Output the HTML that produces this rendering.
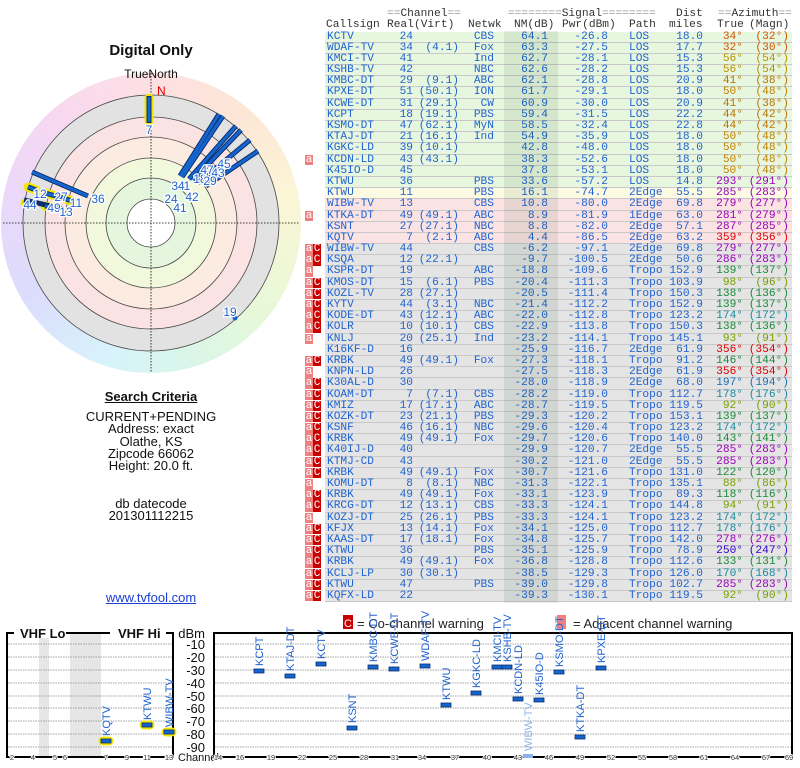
<!DOCTYPE html>
<html><head><meta charset="utf-8"><style>
body{margin:0;width:800px;height:768px;background:#fff;position:relative;overflow:hidden;font-family:"Liberation Sans",sans-serif}
#conic{position:absolute;left:1px;top:73px;width:300px;height:300px;border-radius:50%;background:conic-gradient(from 0deg,#fde0e3,#fde6d6 40deg,#fbf6d6 80deg,#e6f8d8 130deg,#d8f6ec 170deg,#d8f2fc 200deg,#dcdcfc 240deg,#ecd8fa 285deg,#f8d8f0 320deg,#fde0e3)}
svg{position:absolute;left:0;top:0}
.lt{position:absolute;left:0;width:302px;text-align:center;color:#111;font-size:13px}
#tbl{position:absolute;left:325px;top:31.5px;width:467px;font-family:"Liberation Mono",monospace;font-size:11.2px;color:#1f63d0}
.r{position:relative;height:11.2px;line-height:11.2px;box-sizing:border-box;border-bottom:1px solid #c9c9c9}
.r span{position:absolute;top:0;white-space:pre}
.g{background:#e7f7df}.y{background:#fdfae4}.p{background:#fce3e3}.q{background:#e4e4e4}
.r span:nth-of-type(1){left:2px}
.r span:nth-of-type(2){right:379px}
.r span:nth-of-type(3){right:333px}
.r span:nth-of-type(4){right:298px}
.r span:nth-of-type(5){right:244px}
.r span:nth-of-type(6){right:184px}
.r span:nth-of-type(7){left:304px}
.r span:nth-of-type(8){right:89px}
.r span:nth-of-type(9){right:49px}
.r span:nth-of-type(10){right:3px}
.r i{position:absolute;top:0;height:10.5px;width:8px;color:#fff;font-style:normal;text-align:center;font-size:11px}
.r i.a{left:-20px;background:#f08080}
.r i.c{left:-12px;background:#c80000}
#nm{position:absolute;left:504px;top:31px;width:54px;height:572px;background:rgba(0,50,0,.08)}
.h{position:absolute;font-family:"Liberation Mono",monospace;font-size:11.2px;color:#333;white-space:pre}
.h b{font-weight:normal;color:#999}
.o1{color:#cc5500}.o2{color:#bb7200}.o3{color:#c08000}.o4{color:#b89000}
.pu{color:#9a00b8}.rd{color:#dd0000}.in{color:#3300cc}.bl{color:#1a70b8}.te{color:#1a8aa0}.gr{color:#1a8a3a}.ol{color:#78a000}
</style></head><body>
<div id="conic"></div>
<svg width="800" height="768" viewBox="0 0 800 768" font-family="Liberation Sans, sans-serif">
<g stroke="#444" stroke-width="0.8">
<circle cx="151" cy="223" r="128" fill="#e2e2e2"/>
<circle cx="151" cy="223" r="106" fill="#fce3e3"/>
<circle cx="151" cy="223" r="86" fill="#fcebe0"/>
<circle cx="151" cy="223" r="65" fill="#f2f8dc"/>
<circle cx="151" cy="223" r="45" fill="#e5f6df"/>
<circle cx="151" cy="223" r="24" fill="#fff"/>
</g>
<g stroke="#000" stroke-width="0.8" stroke-dasharray="1.5,1.5">
<line x1="3" y1="223" x2="299" y2="223"/><line x1="151" y1="73" x2="151" y2="372"/>
</g>
<text x="151" y="78" font-size="12" text-anchor="middle" fill="#111">TrueNorth</text>
<text x="157" y="95" font-size="12" fill="#d00">N</text>
<text x="151" y="55" font-size="15" font-weight="bold" text-anchor="middle" fill="#111">Digital Only</text>
<!-- yellow bars -->
<g stroke="#f2e600" stroke-width="9" stroke-linecap="round">
<line x1="149" y1="98" x2="149" y2="121"/>
<line x1="28" y1="187" x2="36" y2="190"/>
<line x1="45" y1="193" x2="63" y2="198"/>
<line x1="66" y1="199" x2="72" y2="201"/>
<line x1="25" y1="203" x2="33" y2="204"/>
<line x1="45" y1="206" x2="58" y2="208"/>
</g>
<g stroke="#0b2e6b" stroke-width="5" stroke-linecap="butt">
<line x1="149" y1="96" x2="149" y2="123"/>
<line x1="180" y1="176" x2="219" y2="114"/><line x1="182" y1="177" x2="223" y2="116"/>
<line x1="189" y1="179" x2="236" y2="126"/><line x1="193" y1="180" x2="241" y2="130"/>
<line x1="198" y1="183" x2="250" y2="140"/><line x1="206" y1="186" x2="258" y2="151"/>
<line x1="88" y1="196" x2="32" y2="172"/>
<line x1="28" y1="187" x2="36" y2="190"/><line x1="45" y1="193" x2="63" y2="198"/>
<line x1="66" y1="199" x2="72" y2="201"/><line x1="25" y1="203" x2="33" y2="204"/>
<line x1="45" y1="206" x2="58" y2="208"/><line x1="24" y1="200" x2="64" y2="209"/>
</g>
<g stroke="#1565d0" stroke-width="3">
<line x1="149" y1="97" x2="149" y2="122"/>
<line x1="180" y1="176" x2="219" y2="114"/><line x1="182" y1="177" x2="223" y2="116"/>
<line x1="189" y1="179" x2="236" y2="126"/><line x1="193" y1="180" x2="241" y2="130"/>
<line x1="198" y1="183" x2="250" y2="140"/><line x1="206" y1="186" x2="258" y2="151"/>
<line x1="88" y1="196" x2="32" y2="172"/>
<line x1="28" y1="187" x2="36" y2="190"/><line x1="45" y1="193" x2="63" y2="198"/>
<line x1="66" y1="199" x2="72" y2="201"/><line x1="25" y1="203" x2="33" y2="204"/>
<line x1="45" y1="206" x2="58" y2="208"/>
</g>
<circle cx="235" cy="318" r="2.5" fill="#1565d0"/>
<g font-size="12" fill="#1f63d0" stroke="#fff" stroke-width="2.5" paint-order="stroke" text-anchor="middle">
<text x="149" y="134">7</text><text x="98" y="203">36</text>
<text x="40" y="198">12</text><text x="61" y="201">27</text><text x="76" y="207">11</text>
<text x="30" y="209">44</text><text x="54" y="212">49</text><text x="66" y="216">13</text>
<text x="230" y="316">19</text>
<text x="178" y="190">34</text><text x="187" y="190">1</text><text x="200" y="183">18</text>
<text x="207" y="174">47</text><text x="224" y="168">45</text><text x="218" y="177">43</text>
<text x="210" y="185">29</text><text x="171" y="203">24</text><text x="192" y="201">42</text>
<text x="180" y="212">41</text>
</g>
<!-- legend -->
<rect x="343" y="615" width="10" height="14" fill="#c80000"/><text x="348" y="627" font-size="11" fill="#fff" text-anchor="middle">C</text>
<text x="357" y="628" font-size="13" fill="#222">= Co-channel warning</text>
<rect x="557" y="615" width="9" height="14" fill="#f08080"/>
<text x="573" y="628" font-size="13" fill="#222">= Adjacent channel warning</text>
<!-- bottom charts -->
<rect x="39" y="634" width="10" height="123" fill="#e6e6e6"/>
<rect x="70" y="634" width="31" height="123" fill="#e6e6e6"/>
<g stroke="#888" stroke-width="0.8" stroke-dasharray="1.5,1">
<line x1="8" y1="644" x2="172" y2="644"/><line x1="215" y1="644" x2="791" y2="644"/>
<line x1="8" y1="657" x2="172" y2="657"/><line x1="215" y1="657" x2="791" y2="657"/>
<line x1="8" y1="670" x2="172" y2="670"/><line x1="215" y1="670" x2="791" y2="670"/>
<line x1="8" y1="683" x2="172" y2="683"/><line x1="215" y1="683" x2="791" y2="683"/>
<line x1="8" y1="696" x2="172" y2="696"/><line x1="215" y1="696" x2="791" y2="696"/>
<line x1="8" y1="708" x2="172" y2="708"/><line x1="215" y1="708" x2="791" y2="708"/>
<line x1="8" y1="721" x2="172" y2="721"/><line x1="215" y1="721" x2="791" y2="721"/>
<line x1="8" y1="734" x2="172" y2="734"/><line x1="215" y1="734" x2="791" y2="734"/>
<line x1="8" y1="747" x2="172" y2="747"/><line x1="215" y1="747" x2="791" y2="747"/>
</g>
<rect x="7" y="633" width="166" height="124" fill="none" stroke="#000" stroke-width="2"/>
<rect x="214" y="633" width="578" height="124" fill="none" stroke="#000" stroke-width="2"/>
<rect x="14" y="626" width="52" height="12" fill="#fff"/><rect x="110" y="626" width="56" height="12" fill="#fff"/>
<text x="20" y="638" font-size="13" font-weight="bold" fill="#111">VHF Lo</text>
<text x="118" y="638" font-size="13" font-weight="bold" fill="#111">VHF Hi</text>
<g font-size="13" fill="#111" text-anchor="end">
<text x="205" y="638">dBm</text><text x="205" y="649">-10</text><text x="205" y="662">-20</text><text x="205" y="675">-30</text>
<text x="205" y="688">-40</text><text x="205" y="701">-50</text><text x="205" y="713">-60</text><text x="205" y="726">-70</text>
<text x="205" y="739">-80</text><text x="205" y="752">-90</text>
</g>
<text x="178" y="761" font-size="11" fill="#111">Channel</text>
<g font-size="7.5" fill="#333" text-anchor="middle" stroke="#fff" stroke-width="2" paint-order="stroke">
<text x="12" y="760">2</text><text x="33" y="760">4</text><text x="55" y="760">5</text><text x="65" y="760">6</text>
<text x="106" y="760">7</text><text x="127" y="760">9</text><text x="147" y="760">11</text><text x="169" y="760">13</text>
<text x="218" y="760">14</text><text x="240" y="760">16</text><text x="271" y="760">19</text><text x="302" y="760">22</text>
<text x="333" y="760">25</text><text x="364" y="760">28</text><text x="395" y="760">31</text><text x="422" y="760">34</text>
<text x="455" y="760">37</text><text x="487" y="760">40</text><text x="518" y="760">43</text><text x="549" y="760">46</text>
<text x="580" y="760">49</text><text x="611" y="760">52</text><text x="642" y="760">55</text><text x="673" y="760">58</text>
<text x="704" y="760">61</text><text x="735" y="760">64</text><text x="766" y="760">67</text><text x="789" y="760">69</text>
</g>
<g stroke="#f2e600" stroke-width="3" fill="none">
<rect x="100" y="738" width="12" height="6" rx="3"/><rect x="141" y="722" width="12" height="6" rx="3"/><rect x="163" y="729" width="12" height="6" rx="3"/>
</g>
<g fill="#1565d0" stroke="#0b2e6b" stroke-width="0.8">
<rect x="101" y="739" width="10" height="4"/><rect x="142" y="723" width="10" height="4"/><rect x="164" y="730" width="10" height="4"/>
<rect x="254" y="669" width="10" height="4"/><rect x="285" y="674" width="10" height="4"/><rect x="316" y="662" width="10" height="4"/>
<rect x="347" y="726" width="10" height="4"/><rect x="368" y="665" width="10" height="4"/><rect x="389" y="667" width="10" height="4"/>
<rect x="420" y="664" width="10" height="4"/><rect x="441" y="703" width="10" height="4"/><rect x="471" y="691" width="10" height="4"/>
<rect x="492" y="665" width="10" height="4"/><rect x="502" y="665" width="10" height="4"/><rect x="513" y="697" width="10" height="4"/>
<rect x="534" y="698" width="10" height="4"/><rect x="554" y="670" width="10" height="4"/><rect x="575" y="735" width="10" height="4"/>
<rect x="596" y="666" width="10" height="4"/>
</g>
<rect x="523" y="754" width="10" height="4" fill="#8ab4e8"/>
<g font-size="11" fill="#1f63d0">
<text transform="translate(110,736) rotate(-90)">KQTV</text>
<text transform="translate(151,720) rotate(-90)">KTWU</text>
<text transform="translate(173,727) rotate(-90)">WIBW-TV</text>
<text transform="translate(263,666) rotate(-90)">KCPT</text>
<text transform="translate(294,671) rotate(-90)">KTAJ-DT</text>
<text transform="translate(325,659) rotate(-90)">KCTV</text>
<text transform="translate(356,723) rotate(-90)">KSNT</text>
<text transform="translate(377,662) rotate(-90)">KMBC-DT</text>
<text transform="translate(398,664) rotate(-90)">KCWE-DT</text>
<text transform="translate(429,661) rotate(-90)">WDAF-TV</text>
<text transform="translate(450,700) rotate(-90)">KTWU</text>
<text transform="translate(480,688) rotate(-90)">KGKC-LD</text>
<text transform="translate(501,662) rotate(-90)">KMCI-TV</text>
<text transform="translate(511,662) rotate(-90)">KSHB-TV</text>
<text transform="translate(522,694) rotate(-90)">KCDN-LD</text>
<text transform="translate(532,751) rotate(-90)" fill="#8ab4e8">WIBW-TV</text>
<text transform="translate(543,695) rotate(-90)">K45IO-D</text>
<text transform="translate(563,667) rotate(-90)">KSMO-DT</text>
<text transform="translate(584,732) rotate(-90)">KTKA-DT</text>
<text transform="translate(605,663) rotate(-90)">KPXE-DT</text>
</g>
</svg>

<div class="lt" style="top:389px;font-weight:bold;font-size:13px;text-decoration:underline">Search Criteria</div>
<div class="lt" style="top:411px;line-height:12.3px">CURRENT+PENDING<br>Address: exact<br>Olathe, KS<br>Zipcode 66062<br>Height: 20.0 ft.</div>
<div class="lt" style="top:498px;line-height:12.3px">db datecode<br>201301112215</div>
<div class="lt" style="top:590px;color:#1a3fd0;text-decoration:underline">www.tvfool.com</div>

<div class="h" style="left:387px;top:8px"><b>==</b>Channel<b>==</b></div>
<div class="h" style="left:508px;top:8px"><b>========</b>Signal<b>========</b></div>
<div class="h" style="left:676px;top:8px">Dist</div>
<div class="h" style="left:718px;top:8px"><b>==</b>Azimuth<b>==</b></div>
<div class="h" style="left:326px;top:19px">Callsign</div>
<div class="h" style="left:387px;top:19px">Real</div>
<div class="h" style="left:414px;top:19px">(Virt)</div>
<div class="h" style="left:468px;top:19px">Netwk</div>
<div class="h" style="left:514px;top:19px">NM(dB)</div>
<div class="h" style="left:562px;top:19px">Pwr(dBm)</div>
<div class="h" style="left:629px;top:19px">Path</div>
<div class="h" style="left:669px;top:19px">miles</div>
<div class="h" style="left:717px;top:19px">True</div>
<div class="h" style="left:749px;top:19px">(Magn)</div>

<div id="tbl">
<div class="r g"><span>KCTV</span><span>24</span><span></span><span>CBS</span><span>64.1</span><span>-26.8</span><span>LOS</span><span>18.0</span><span class="o1">34°</span><span class="o1">(32°)</span></div>
<div class="r g"><span>WDAF-TV</span><span>34</span><span>(4.1)</span><span>Fox</span><span>63.3</span><span>-27.5</span><span>LOS</span><span>17.7</span><span class="o1">32°</span><span class="o1">(30°)</span></div>
<div class="r g"><span>KMCI-TV</span><span>41</span><span></span><span>Ind</span><span>62.7</span><span>-28.1</span><span>LOS</span><span>15.3</span><span class="o4">56°</span><span class="o4">(54°)</span></div>
<div class="r g"><span>KSHB-TV</span><span>42</span><span></span><span>NBC</span><span>62.6</span><span>-28.2</span><span>LOS</span><span>15.3</span><span class="o4">56°</span><span class="o4">(54°)</span></div>
<div class="r g"><span>KMBC-DT</span><span>29</span><span>(9.1)</span><span>ABC</span><span>62.1</span><span>-28.8</span><span>LOS</span><span>20.9</span><span class="o2">41°</span><span class="o2">(38°)</span></div>
<div class="r g"><span>KPXE-DT</span><span>51</span><span>(50.1)</span><span>ION</span><span>61.7</span><span>-29.1</span><span>LOS</span><span>18.0</span><span class="o3">50°</span><span class="o3">(48°)</span></div>
<div class="r g"><span>KCWE-DT</span><span>31</span><span>(29.1)</span><span>CW</span><span>60.9</span><span>-30.0</span><span>LOS</span><span>20.9</span><span class="o2">41°</span><span class="o2">(38°)</span></div>
<div class="r g"><span>KCPT</span><span>18</span><span>(19.1)</span><span>PBS</span><span>59.4</span><span>-31.5</span><span>LOS</span><span>22.2</span><span class="o2">44°</span><span class="o2">(42°)</span></div>
<div class="r g"><span>KSMO-DT</span><span>47</span><span>(62.1)</span><span>MyN</span><span>58.5</span><span>-32.4</span><span>LOS</span><span>22.8</span><span class="o2">44°</span><span class="o2">(42°)</span></div>
<div class="r g"><span>KTAJ-DT</span><span>21</span><span>(16.1)</span><span>Ind</span><span>54.9</span><span>-35.9</span><span>LOS</span><span>18.0</span><span class="o3">50°</span><span class="o3">(48°)</span></div>
<div class="r g"><span>KGKC-LD</span><span>39</span><span>(10.1)</span><span></span><span>42.8</span><span>-48.0</span><span>LOS</span><span>18.0</span><span class="o3">50°</span><span class="o3">(48°)</span></div>
<div class="r g"><span>KCDN-LD</span><span>43</span><span>(43.1)</span><span></span><span>38.3</span><span>-52.6</span><span>LOS</span><span>18.0</span><span class="o3">50°</span><span class="o3">(48°)</span><i class="a">a</i></div>
<div class="r g"><span>K45IO-D</span><span>45</span><span></span><span></span><span>37.8</span><span>-53.1</span><span>LOS</span><span>18.0</span><span class="o3">50°</span><span class="o3">(48°)</span></div>
<div class="r g"><span>KTWU</span><span>36</span><span></span><span>PBS</span><span>33.6</span><span>-57.2</span><span>LOS</span><span>14.8</span><span class="pu">293°</span><span class="pu">(291°)</span></div>
<div class="r y"><span>KTWU</span><span>11</span><span></span><span>PBS</span><span>16.1</span><span>-74.7</span><span>2Edge</span><span>55.5</span><span class="pu">285°</span><span class="pu">(283°)</span></div>
<div class="r p"><span>WIBW-TV</span><span>13</span><span></span><span>CBS</span><span>10.8</span><span>-80.0</span><span>2Edge</span><span>69.8</span><span class="pu">279°</span><span class="pu">(277°)</span></div>
<div class="r p"><span>KTKA-DT</span><span>49</span><span>(49.1)</span><span>ABC</span><span>8.9</span><span>-81.9</span><span>1Edge</span><span>63.0</span><span class="pu">281°</span><span class="pu">(279°)</span><i class="a">a</i></div>
<div class="r p"><span>KSNT</span><span>27</span><span>(27.1)</span><span>NBC</span><span>8.8</span><span>-82.0</span><span>2Edge</span><span>57.1</span><span class="pu">287°</span><span class="pu">(285°)</span></div>
<div class="r p"><span>KQTV</span><span>7</span><span>(2.1)</span><span>ABC</span><span>4.4</span><span>-86.5</span><span>2Edge</span><span>63.2</span><span class="rd">359°</span><span class="rd">(356°)</span></div>
<div class="r q"><span>WIBW-TV</span><span>44</span><span></span><span>CBS</span><span>-6.2</span><span>-97.1</span><span>2Edge</span><span>69.8</span><span class="pu">279°</span><span class="pu">(277°)</span><i class="a">a</i><i class="c">C</i></div>
<div class="r q"><span>KSQA</span><span>12</span><span>(22.1)</span><span></span><span>-9.7</span><span>-100.5</span><span>2Edge</span><span>50.6</span><span class="pu">286°</span><span class="pu">(283°)</span><i class="a">a</i><i class="c">C</i></div>
<div class="r q"><span>KSPR-DT</span><span>19</span><span></span><span>ABC</span><span>-18.8</span><span>-109.6</span><span>Tropo</span><span>152.9</span><span class="gr">139°</span><span class="gr">(137°)</span><i class="a">a</i></div>
<div class="r q"><span>KMOS-DT</span><span>15</span><span>(6.1)</span><span>PBS</span><span>-20.4</span><span>-111.3</span><span>Tropo</span><span>103.9</span><span class="ol">98°</span><span class="ol">(96°)</span><i class="a">a</i><i class="c">C</i></div>
<div class="r q"><span>KOZL-TV</span><span>28</span><span>(27.1)</span><span></span><span>-20.5</span><span>-111.4</span><span>Tropo</span><span>150.3</span><span class="gr">138°</span><span class="gr">(136°)</span><i class="a">a</i><i class="c">C</i></div>
<div class="r q"><span>KYTV</span><span>44</span><span>(3.1)</span><span>NBC</span><span>-21.4</span><span>-112.2</span><span>Tropo</span><span>152.9</span><span class="gr">139°</span><span class="gr">(137°)</span><i class="a">a</i><i class="c">C</i></div>
<div class="r q"><span>KODE-DT</span><span>43</span><span>(12.1)</span><span>ABC</span><span>-22.0</span><span>-112.8</span><span>Tropo</span><span>123.2</span><span class="te">174°</span><span class="te">(172°)</span><i class="a">a</i><i class="c">C</i></div>
<div class="r q"><span>KOLR</span><span>10</span><span>(10.1)</span><span>CBS</span><span>-22.9</span><span>-113.8</span><span>Tropo</span><span>150.3</span><span class="gr">138°</span><span class="gr">(136°)</span><i class="a">a</i><i class="c">C</i></div>
<div class="r q"><span>KNLJ</span><span>20</span><span>(25.1)</span><span>Ind</span><span>-23.2</span><span>-114.1</span><span>Tropo</span><span>145.1</span><span class="ol">93°</span><span class="ol">(91°)</span><i class="a">a</i></div>
<div class="r q"><span>K16KF-D</span><span>16</span><span></span><span></span><span>-25.9</span><span>-116.7</span><span>2Edge</span><span>61.9</span><span class="rd">356°</span><span class="rd">(354°)</span></div>
<div class="r q"><span>KRBK</span><span>49</span><span>(49.1)</span><span>Fox</span><span>-27.3</span><span>-118.1</span><span>Tropo</span><span>91.2</span><span class="gr">146°</span><span class="gr">(144°)</span><i class="a">a</i><i class="c">C</i></div>
<div class="r q"><span>KNPN-LD</span><span>26</span><span></span><span></span><span>-27.5</span><span>-118.3</span><span>2Edge</span><span>61.9</span><span class="rd">356°</span><span class="rd">(354°)</span><i class="a">a</i></div>
<div class="r q"><span>K30AL-D</span><span>30</span><span></span><span></span><span>-28.0</span><span>-118.9</span><span>2Edge</span><span>68.0</span><span class="bl">197°</span><span class="bl">(194°)</span><i class="a">a</i><i class="c">C</i></div>
<div class="r q"><span>KOAM-DT</span><span>7</span><span>(7.1)</span><span>CBS</span><span>-28.2</span><span>-119.0</span><span>Tropo</span><span>112.7</span><span class="te">178°</span><span class="te">(176°)</span><i class="a">a</i><i class="c">C</i></div>
<div class="r q"><span>KMIZ</span><span>17</span><span>(17.1)</span><span>ABC</span><span>-28.7</span><span>-119.5</span><span>Tropo</span><span>119.5</span><span class="ol">92°</span><span class="ol">(90°)</span><i class="a">a</i><i class="c">C</i></div>
<div class="r q"><span>KOZK-DT</span><span>23</span><span>(21.1)</span><span>PBS</span><span>-29.3</span><span>-120.2</span><span>Tropo</span><span>153.1</span><span class="gr">139°</span><span class="gr">(137°)</span><i class="a">a</i><i class="c">C</i></div>
<div class="r q"><span>KSNF</span><span>46</span><span>(16.1)</span><span>NBC</span><span>-29.6</span><span>-120.4</span><span>Tropo</span><span>123.2</span><span class="te">174°</span><span class="te">(172°)</span><i class="a">a</i><i class="c">C</i></div>
<div class="r q"><span>KRBK</span><span>49</span><span>(49.1)</span><span>Fox</span><span>-29.7</span><span>-120.6</span><span>Tropo</span><span>140.0</span><span class="gr">143°</span><span class="gr">(141°)</span><i class="a">a</i><i class="c">C</i></div>
<div class="r q"><span>K40IJ-D</span><span>40</span><span></span><span></span><span>-29.9</span><span>-120.7</span><span>2Edge</span><span>55.5</span><span class="pu">285°</span><span class="pu">(283°)</span><i class="a">a</i><i class="c">C</i></div>
<div class="r q"><span>KTMJ-CD</span><span>43</span><span></span><span></span><span>-30.2</span><span>-121.0</span><span>2Edge</span><span>55.5</span><span class="pu">285°</span><span class="pu">(283°)</span><i class="a">a</i><i class="c">C</i></div>
<div class="r q"><span>KRBK</span><span>49</span><span>(49.1)</span><span>Fox</span><span>-30.7</span><span>-121.6</span><span>Tropo</span><span>131.0</span><span class="gr">122°</span><span class="gr">(120°)</span><i class="a">a</i><i class="c">C</i></div>
<div class="r q"><span>KOMU-DT</span><span>8</span><span>(8.1)</span><span>NBC</span><span>-31.3</span><span>-122.1</span><span>Tropo</span><span>135.1</span><span class="ol">88°</span><span class="ol">(86°)</span><i class="a">a</i></div>
<div class="r q"><span>KRBK</span><span>49</span><span>(49.1)</span><span>Fox</span><span>-33.1</span><span>-123.9</span><span>Tropo</span><span>89.3</span><span class="gr">118°</span><span class="gr">(116°)</span><i class="a">a</i><i class="c">C</i></div>
<div class="r q"><span>KRCG-DT</span><span>12</span><span>(13.1)</span><span>CBS</span><span>-33.3</span><span>-124.1</span><span>Tropo</span><span>144.8</span><span class="ol">94°</span><span class="ol">(91°)</span><i class="a">a</i><i class="c">C</i></div>
<div class="r q"><span>KOZJ-DT</span><span>25</span><span>(26.1)</span><span>PBS</span><span>-33.3</span><span>-124.1</span><span>Tropo</span><span>123.2</span><span class="te">174°</span><span class="te">(172°)</span><i class="a">a</i></div>
<div class="r q"><span>KFJX</span><span>13</span><span>(14.1)</span><span>Fox</span><span>-34.1</span><span>-125.0</span><span>Tropo</span><span>112.7</span><span class="te">178°</span><span class="te">(176°)</span><i class="a">a</i><i class="c">C</i></div>
<div class="r q"><span>KAAS-DT</span><span>17</span><span>(18.1)</span><span>Fox</span><span>-34.8</span><span>-125.7</span><span>Tropo</span><span>142.0</span><span class="pu">278°</span><span class="pu">(276°)</span><i class="a">a</i><i class="c">C</i></div>
<div class="r q"><span>KTWU</span><span>36</span><span></span><span>PBS</span><span>-35.1</span><span>-125.9</span><span>Tropo</span><span>78.9</span><span class="in">250°</span><span class="in">(247°)</span><i class="a">a</i><i class="c">C</i></div>
<div class="r q"><span>KRBK</span><span>49</span><span>(49.1)</span><span>Fox</span><span>-36.8</span><span>-128.8</span><span>Tropo</span><span>112.6</span><span class="gr">133°</span><span class="gr">(131°)</span><i class="a">a</i><i class="c">C</i></div>
<div class="r q"><span>KCLJ-LP</span><span>30</span><span>(30.1)</span><span></span><span>-38.5</span><span>-129.3</span><span>Tropo</span><span>126.0</span><span class="te">170°</span><span class="te">(168°)</span><i class="a">a</i><i class="c">C</i></div>
<div class="r q"><span>KTWU</span><span>47</span><span></span><span>PBS</span><span>-39.0</span><span>-129.8</span><span>Tropo</span><span>102.7</span><span class="pu">285°</span><span class="pu">(283°)</span><i class="a">a</i><i class="c">C</i></div>
<div class="r q"><span>KQFX-LD</span><span>22</span><span></span><span></span><span>-39.3</span><span>-130.1</span><span>Tropo</span><span>119.5</span><span class="ol">92°</span><span class="ol">(90°)</span><i class="a">a</i><i class="c">C</i></div>
</div>
<div id="nm"></div>
</body></html>
